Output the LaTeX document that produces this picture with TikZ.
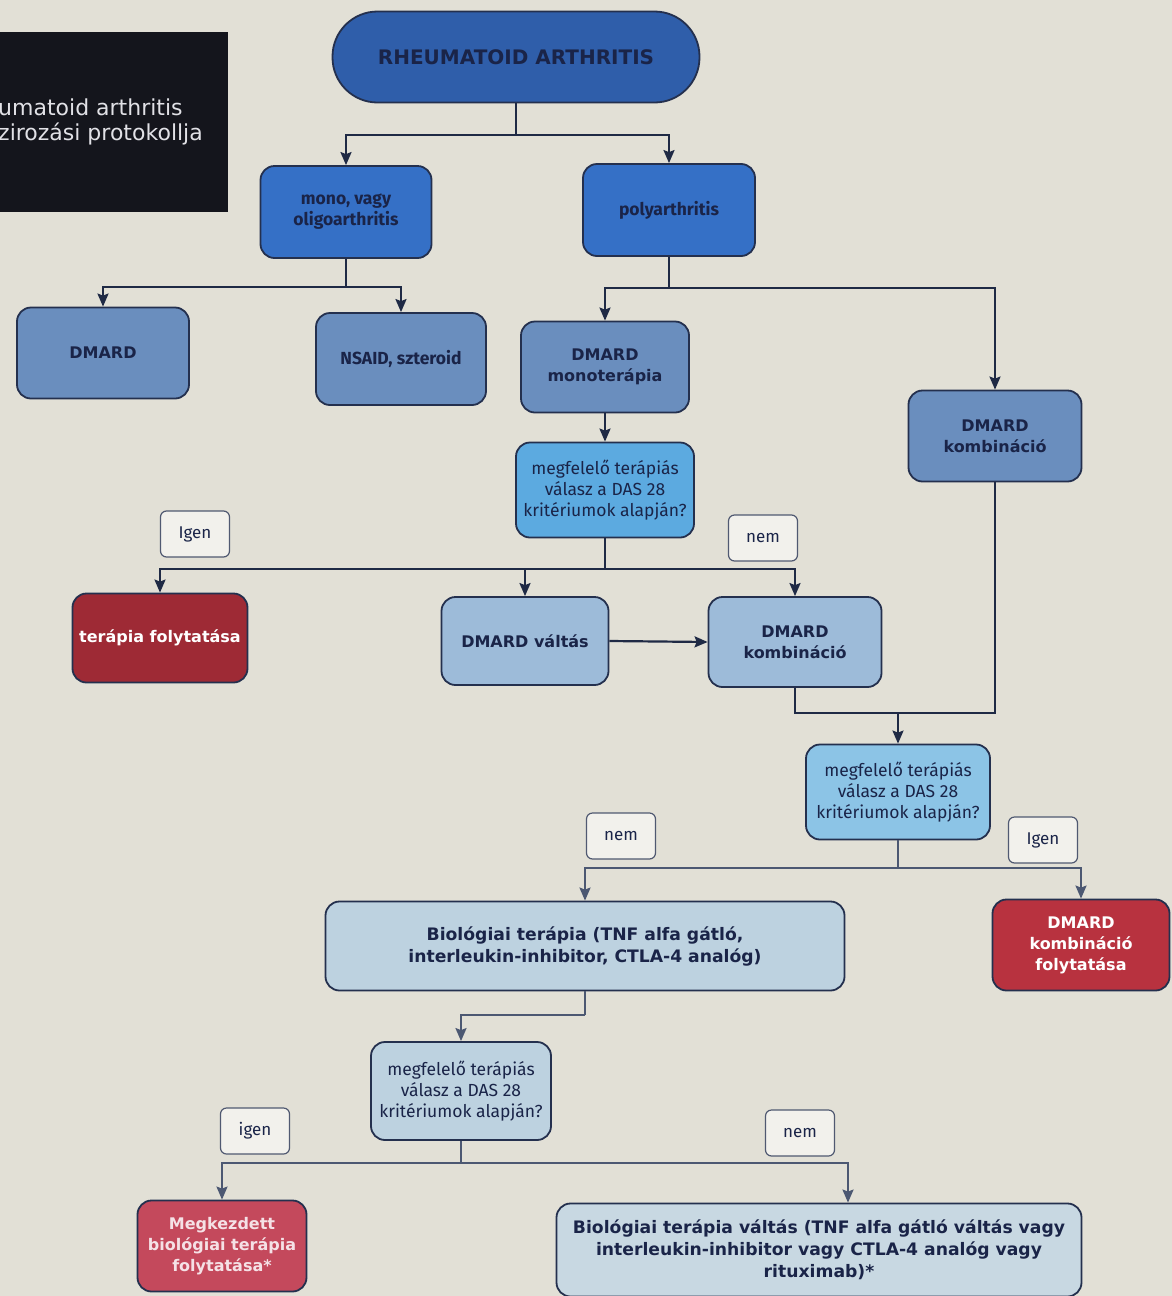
\documentclass[tikz,border=0pt]{standalone}
\usepackage{fontspec}
\setmainfont{Fira Sans}
\newfontfamily\verd{DejaVu Sans}
\usetikzlibrary{arrows.meta}
\definecolor{bg}{HTML}{E2E0D6}
\definecolor{navy}{HTML}{1A2448}
\definecolor{bord}{HTML}{24304E}
\definecolor{conA}{HTML}{1F2A45}
\definecolor{conB}{HTML}{4C5872}
\definecolor{rablue}{HTML}{2F5EAA}
\definecolor{bright}{HTML}{3570C6}
\definecolor{steel}{HTML}{6A8EBE}
\definecolor{qone}{HTML}{5CAAE0}
\definecolor{lightb}{HTML}{9DBBD9}
\definecolor{qtwo}{HTML}{8CC4E6}
\definecolor{pale}{HTML}{BDD2E0}
\definecolor{paler}{HTML}{C8D8E2}
\definecolor{redA}{HTML}{9E2A35}
\definecolor{redB}{HTML}{B8323F}
\definecolor{redC}{HTML}{C4495C}
\definecolor{lblfill}{HTML}{F2F1EC}
\begin{document}
\begin{tikzpicture}[x=1pt,y=-1pt,
  sz/.style 2 args={minimum width=#1pt, minimum height=#2pt},
  box/.style={draw=bord, line width=1.8pt, rounded corners=14pt, inner sep=2pt, align=center,
    text=navy, font=\verd\bfseries\fontsize{16}{21}\selectfont},
  bigbox/.style={box, font=\verd\bfseries\fontsize{17.2}{22}\selectfont},
  qbox/.style={box, font=\fontsize{17.5}{21}\selectfont},
  sbox/.style={box, font=\bfseries\fontsize{17.5}{21}\selectfont},
  redbox/.style={box, text=white},
  lbl/.style={draw=bord!80, line width=1.2pt, fill=lblfill, rounded corners=6pt, sz={69}{46},
    text=navy, font=\fontsize{17}{20}\selectfont},
  conn/.style={draw=conA, line width=2.2pt},
  connb/.style={draw=conB, line width=2.2pt},
  arr/.style={-{Stealth[length=13pt,width=11pt,inset=2pt]}}
]
\fill[bg] (0,0) rectangle (1172,1296);
\useasboundingbox (0,0) rectangle (1172,1296);

% title block
\fill[fill={rgb,255:red,20;green,21;blue,28}] (0,32) rectangle (228,212);
\node[anchor=west, text={rgb,255:red,225;green,225;blue,230}, font=\verd\fontsize{22}{25}\selectfont, align=left, inner sep=0pt] (title) at (-2,122) {umatoid arthritis\\zirozási protokollja};

% nodes
\node[box, fill=rablue, rounded corners=45pt, sz={367}{91}, font=\verd\bfseries\fontsize{20}{24}\selectfont] (ra) at (516,57) {RHEUMATOID ARTHRITIS};
\node[sbox, fill=bright, sz={171}{92}] (mono) at (346,212) {mono, vagy\\oligoarthritis};
\node[sbox, fill=bright, sz={172}{92}] (poly) at (669,210) {polyarthritis};
\node[box, fill=steel, sz={172}{91}] (dl) at (103,353) {DMARD};
\node[sbox, fill=steel, sz={170}{92}] (nsaid) at (401,359) {NSAID, szteroid};
\node[box, fill=steel, sz={168}{91}] (dmono) at (605,367) {DMARD\\monoterápia};
\node[box, fill=steel, sz={173}{91}] (dkr) at (995,436) {DMARD\\kombináció};
\node[qbox, fill=qone, sz={178}{95}] (q1) at (605,490) {megfelelő terápiás\\válasz a DAS 28\\kritériumok alapján?};
\node[lbl] (igen1) at (195,534) {Igen};
\node[lbl] (nem1) at (763,538) {nem};
\node[redbox, fill=redA, sz={175}{89}] (terap) at (160,638) {terápia folytatása};
\node[box, fill=lightb, sz={167}{88}] (valt) at (525,641) {DMARD váltás};
\node[box, fill=lightb, sz={173}{90}] (kmid) at (795,642) {DMARD\\kombináció};
\node[qbox, fill=qtwo, sz={184}{95}] (q2) at (898,792) {megfelelő terápiás\\válasz a DAS 28\\kritériumok alapján?};
\node[lbl] (nem2) at (621,836) {nem};
\node[lbl] (igen2) at (1043,840) {Igen};
\node[bigbox, fill=pale, sz={519}{89}] (bio) at (585,946) {Biológiai terápia (TNF alfa gátló,\\interleukin-inhibitor, CTLA-4 analóg)};
\node[redbox, fill=redB, sz={177}{91}] (dkf) at (1081,945) {DMARD\\kombináció\\folytatása};
\node[qbox, fill=pale, sz={180}{98}] (q3) at (461,1091) {megfelelő terápiás\\válasz a DAS 28\\kritériumok alapján?};
\node[lbl] (igen3) at (255,1131) {igen};
\node[lbl] (nem3) at (800,1133) {nem};
\node[redbox, fill=redC, sz={169}{91}, text={rgb,255:red,245;green,225;blue,230}] (meg) at (222,1246) {Megkezdett\\biológiai terápia\\folytatása*};
\node[bigbox, fill=paler, sz={525}{93}] (bv) at (819,1250) {Biológiai terápia váltás (TNF alfa gátló váltás vagy\\interleukin-inhibitor vagy CTLA-4 analóg vagy\\rituximab)*};

% connectors
\coordinate (j1) at (516,135);
\draw[conn] (ra.south) -- (j1);
\draw[conn,arr] (j1) -| (mono.north);
\draw[conn,arr] (j1) -| (poly.north);

\coordinate (j2) at (346,287);
\draw[conn] (mono.south) -- (j2);
\draw[conn,arr] (j2) -| (dl.north);
\draw[conn,arr] (j2) -| (nsaid.north);

\coordinate (j3) at (669,288);
\draw[conn] (poly.south) -- (j3);
\draw[conn,arr] (j3) -| (dmono.north);
\draw[conn,arr] (j3) -| (dkr.north);

\draw[conn,arr] (dmono.south) -- (q1.north);

\coordinate (j4) at (605,569);
\draw[conn] (q1.south) -- (j4);
\draw[conn,arr] (j4) -| (terap.north);
\draw[conn,arr] (j4) -| (valt.north);
\draw[conn,arr] (j4) -| (kmid.north);

\draw[conn,arr] (valt.east) -- (kmid.west);

\coordinate (j5) at (898,713);
\draw[conn] (kmid.south) |- (j5);
\draw[conn] (dkr.south) |- (j5);
\draw[conn,arr] (j5) -- (q2.north);

\coordinate (j6) at (898,868);
\draw[connb] (q2.south) -- (j6);
\draw[connb,arr] (j6) -| (bio.north);
\draw[connb,arr] (j6) -| (dkf.north);

\coordinate (j7) at (585,1015);
\draw[connb] (bio.south) -- (j7);
\draw[connb,arr] (j7) -| (q3.north);

\coordinate (j8) at (461,1163);
\draw[connb] (q3.south) -- (j8);
\draw[connb,arr] (j8) -| (meg.north);
\draw[connb,arr] (j8) -| ([xshift=29pt]bv.north);
\end{tikzpicture}
\end{document}
